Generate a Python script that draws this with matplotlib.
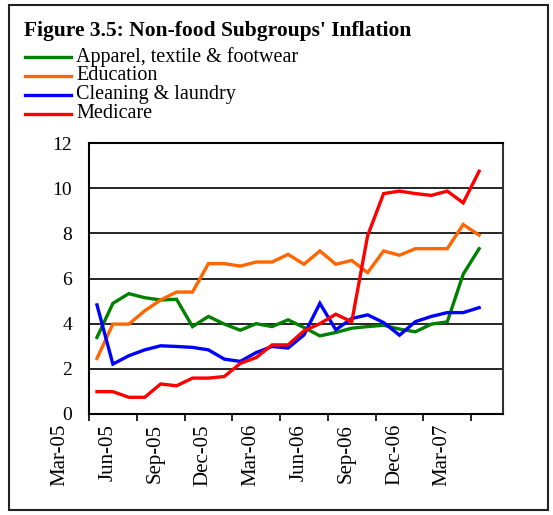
import matplotlib
matplotlib.use("Agg")
import matplotlib.pyplot as plt
import matplotlib.transforms as mtransforms
from matplotlib.patches import Rectangle
from matplotlib.lines import Line2D

months = ["Mar-05", "Apr-05", "May-05", "Jun-05", "Jul-05", "Aug-05", "Sep-05", "Oct-05",
          "Nov-05", "Dec-05", "Jan-06", "Feb-06", "Mar-06", "Apr-06", "May-06", "Jun-06",
          "Jul-06", "Aug-06", "Sep-06", "Oct-06", "Nov-06", "Dec-06", "Jan-07", "Feb-07", "Mar-07"]
tick_labels = ["Mar-05", "Jun-05", "Sep-05", "Dec-05", "Mar-06", "Jun-06", "Sep-06", "Dec-06", "Mar-07"]

apparel = [3.39, 4.9, 5.33, 5.15, 5.05, 5.08, 3.87, 4.32, 3.98, 3.71, 4.0, 3.87, 4.17,
           3.83, 3.46, 3.61, 3.8, 3.87, 3.93, 3.76, 3.64, 3.98, 4.08, 6.19, 7.32]
education = [2.46, 3.98, 3.98, 4.57, 5.05, 5.4, 5.4, 6.66, 6.66, 6.55, 6.73, 6.73, 7.07,
             6.63, 7.22, 6.63, 6.8, 6.26, 7.22, 7.03, 7.32, 7.32, 7.32, 8.39, 7.92]
cleaning = [4.83, 2.21, 2.58, 2.84, 3.02, 2.99, 2.95, 2.84, 2.43, 2.33, 2.72, 2.99, 2.92,
            3.5, 4.9, 3.73, 4.23, 4.39, 4.05, 3.49, 4.09, 4.32, 4.49, 4.49, 4.71]
medicare = [0.99, 0.99, 0.74, 0.74, 1.33, 1.25, 1.59, 1.59, 1.66, 2.24, 2.5, 3.06, 3.06,
            3.68, 4.0, 4.42, 4.08, 7.9, 9.76, 9.87, 9.76, 9.68, 9.87, 9.35, 10.75]

series = [
    ("Apparel, textile & footwear", apparel, "#008000"),
    ("Education", education, "#FF6600"),
    ("Cleaning & laundry", cleaning, "#0000FF"),
    ("Medicare", medicare, "#FF0000"),
]

plt.rcParams["font.family"] = ["Liberation Serif", "DejaVu Serif"]

W, H = 553, 515
fig = plt.figure(figsize=(W / 100, H / 100), dpi=100)

# outer frame
fig.patches.append(Rectangle((9 / W, 1 - 510 / H), (548 - 9) / W, (510 - 5) / H,
                             transform=fig.transFigure, fill=False, ec="#222222", lw=1.5))

fig.text(24 / W, 1 - 31 / H, "Figure 3.5: Non-food Subgroups' Inflation",
         fontsize=15.5, fontweight="bold", va="center", ha="left")

ax = fig.add_axes([89 / W, 1 - 414 / H, (503 - 89) / W, (414 - 143) / H])
x = [i + 0.5 for i in range(len(months))]
for name, vals, col in series:
    ax.plot(x, vals, color=col, lw=2.4, label=name, solid_joinstyle="miter")

ax.set_xlim(0, 26)
ax.set_ylim(0, 12)
ax.set_yticks(range(0, 13, 2))
ax.set_yticklabels([str(v) for v in range(0, 13, 2)], fontsize=14)
ax.yaxis.grid(True, color="black", lw=1.2)
ax.set_axisbelow(True)
ax.tick_params(axis="y", length=0, pad=12)
ticks = list(range(0, 25, 3))
ax.set_xticks(ticks)
ax.set_xticklabels([])
ax.tick_params(axis="x", direction="out", length=5, width=1.2)
for s in ax.spines.values():
    s.set_linewidth(1.5)
    s.set_color("black")
ax.spines["right"].set_color("#333333")

offs = mtransforms.offset_copy(ax.get_xaxis_transform(), fig=fig, x=-29, y=-10, units="dots")
for t, lab in zip(ticks, tick_labels):
    ax.text(t, 0, lab, transform=offs, rotation=90, ha="center", va="top",
            fontsize=15, clip_on=False)

# legend at top
for k, (name, vals, col) in enumerate(series):
    yy = 1 - (57 + k * 19) / H
    fig.add_artist(Line2D([25 / W, 71 / W], [yy, yy], color=col, lw=2.4,
                          transform=fig.transFigure))
    fig.text(76 / W, yy, name, fontsize=14.5, va="center", ha="left")

fig.savefig("out.png", dpi=100)
